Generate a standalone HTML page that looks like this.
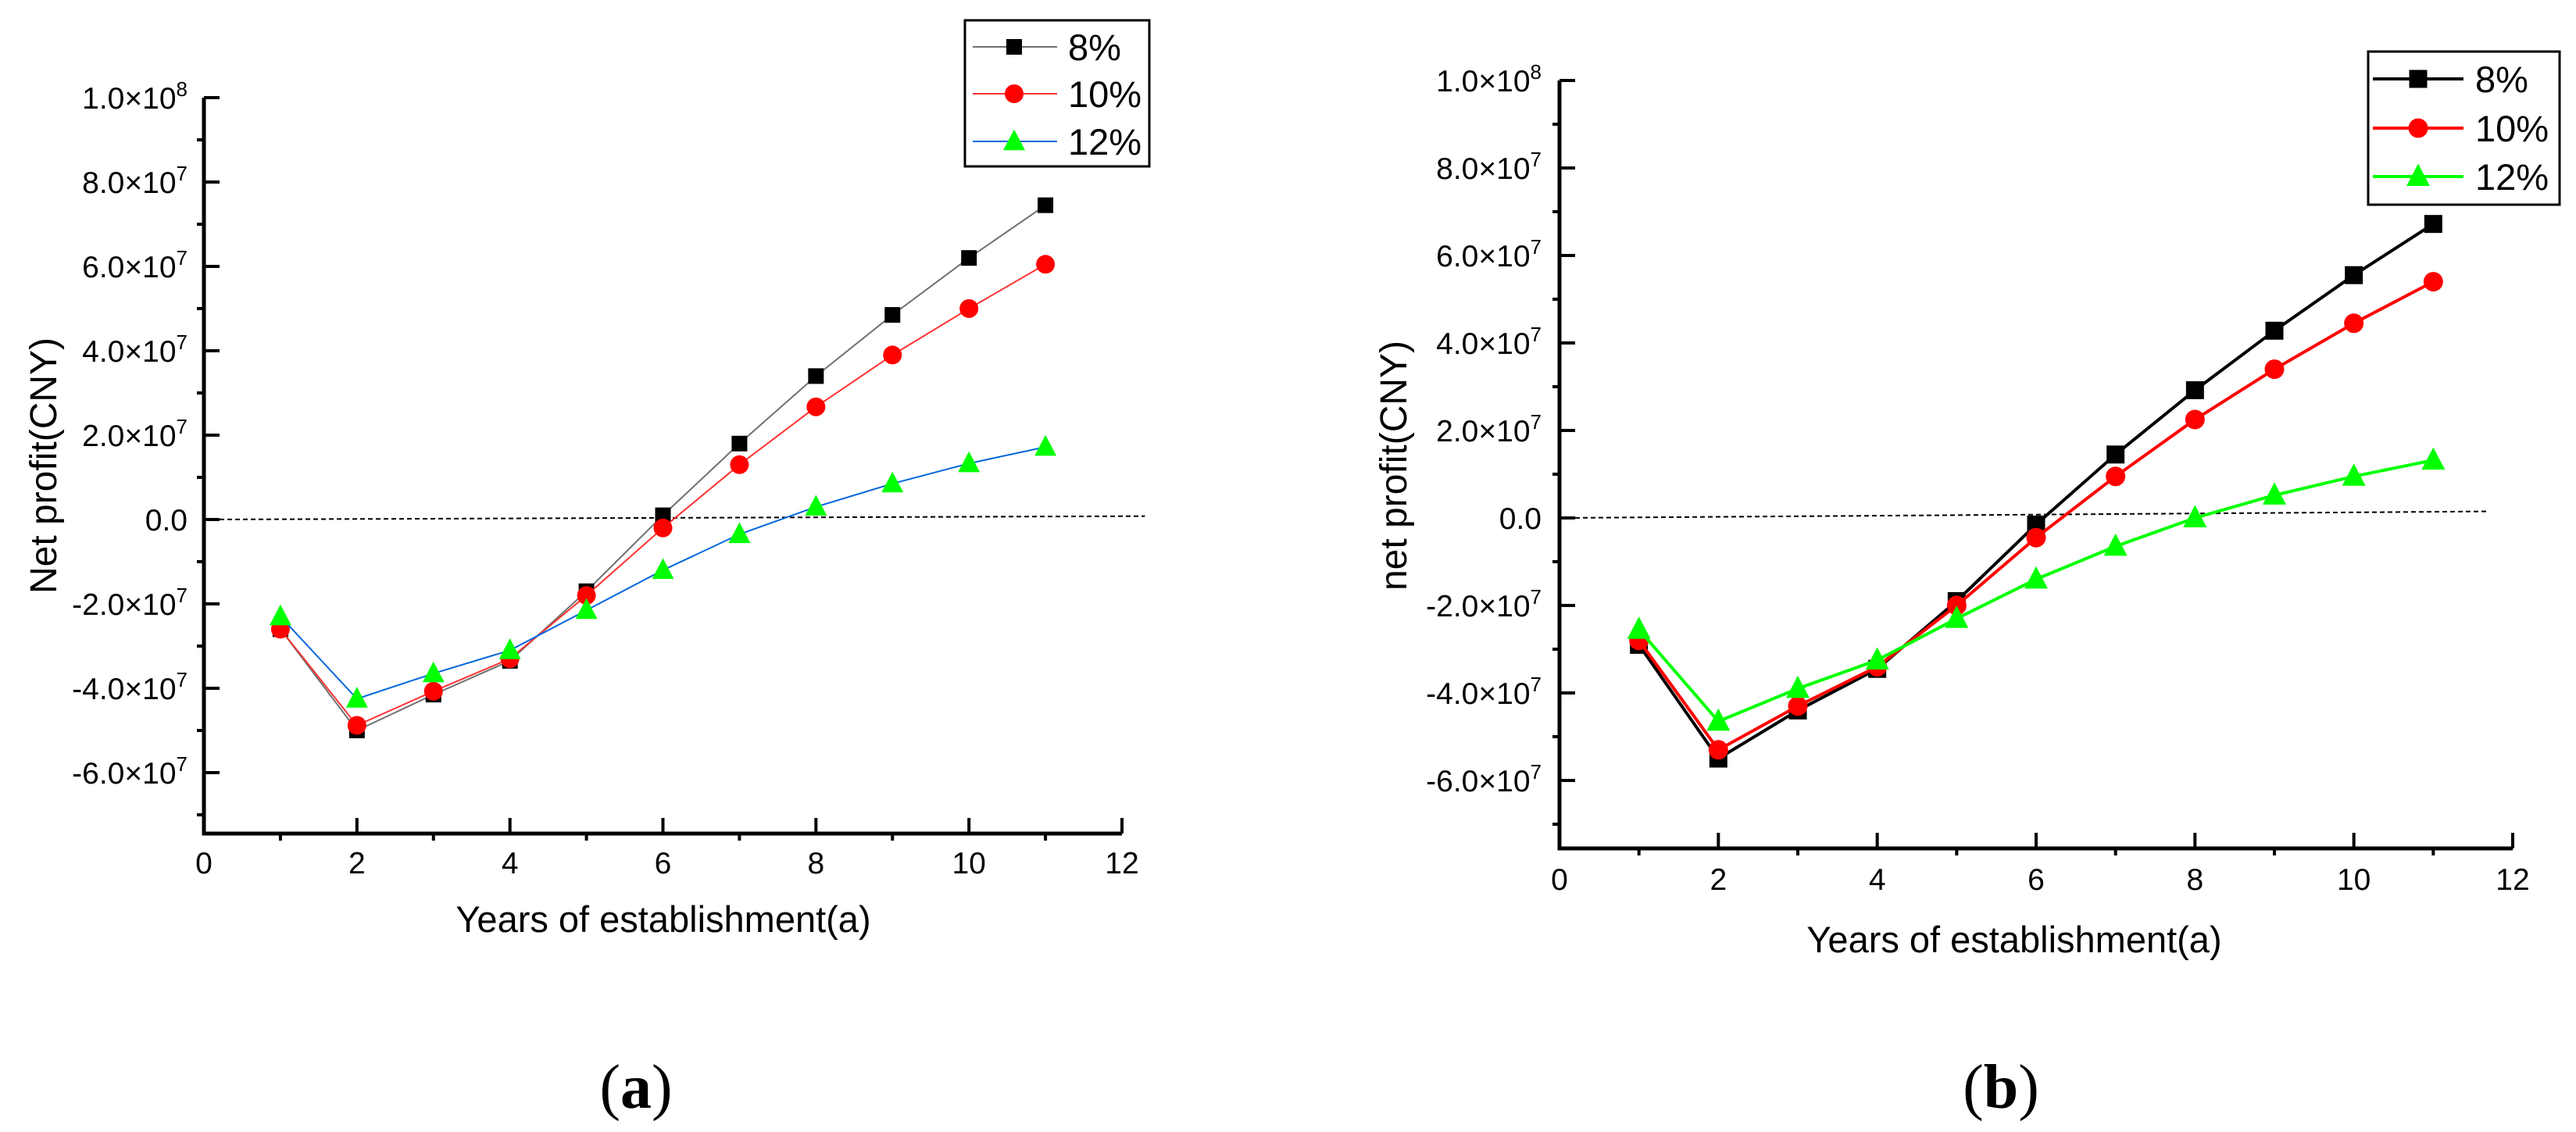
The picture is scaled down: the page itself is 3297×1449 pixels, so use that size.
<!DOCTYPE html>
<html><head><meta charset="utf-8"><style>
html,body{margin:0;padding:0;background:#fff;}
svg{display:block;font-family:"Liberation Sans",Arial,sans-serif;}
</style></head><body>
<svg id="fig" width="3297" height="1449" viewBox="0 0 3297 1449" xmlns="http://www.w3.org/2000/svg">
<rect x="0" y="0" width="3297" height="1449" fill="#fff"/>
</svg>
<script>
const years = [1,2,3,4,5,6,7,8,9,10,11];
const seriesNames = ["8%","10%","12%"];
const a8 = [-2.6,-5.0,-4.15,-3.35,-1.7,0.1,1.8,3.4,4.85,6.2,7.45];
const a10 = [-2.6,-4.88,-4.07,-3.3,-1.8,-0.2,1.3,2.67,3.9,5.0,6.05];
const a12 = [-2.3,-4.25,-3.65,-3.1,-2.15,-1.2,-0.35,0.3,0.85,1.33,1.72];
const b8 = [-2.9,-5.5,-4.4,-3.45,-1.9,-0.15,1.45,2.92,4.28,5.55,6.72];
const b10 = [-2.8,-5.3,-4.3,-3.4,-2.0,-0.45,0.95,2.25,3.4,4.45,5.4];
const b12 = [-2.55,-4.65,-3.9,-3.25,-2.3,-1.4,-0.65,0.0,0.52,0.95,1.32];
const xTicks = [0,2,4,6,8,10,12];
const yTickMant = ["-6.0","-4.0","-2.0","0.0","2.0","4.0","6.0","8.0","1.0"];
const yTickVals = [-6,-4,-2,0,2,4,6,8,10];
const yTickExp = ["7","7","7","","7","7","7","7","8"];
const zeroLineA = [0,0,12.3,0.08];
const zeroLineB = [0,0,11.7,0.15];

const NS="http://www.w3.org/2000/svg";
const svg=document.getElementById('fig');
function mk(tag,attrs,parent){const e=document.createElementNS(NS,tag);for(const k in attrs)e.setAttribute(k,attrs[k]);(parent||svg).appendChild(e);return e;}

function panel(P){
  const g=mk('g',{});
  
  
  const X=v=>P.x0+(v-0)*(P.x12-P.x0)/12;
  const Y=v=>P.y0-(v)*(P.y0-P.y10)/10;
  // zero reference line
  const z=P.zero;
  const zl=mk('line',{x1:X(z[0]),y1:Y(z[1]),x2:X(z[2]),y2:Y(z[3]),stroke:'#000','stroke-width':2,'stroke-dasharray':'6,4'},g);
  
  
  // axes
  const ax=mk('path',{d:`M${P.x0},${Y(10)} V${P.yb} H${X(12)}`,fill:'none',stroke:'#000','stroke-width':5},g);
  
  
  // y ticks
  for(let i=0;i<yTickVals.length;i++){
    const v=yTickVals[i];const y=Y(v);
    mk('line',{x1:P.x0,y1:y,x2:P.x0+20,y2:y,stroke:'#000','stroke-width':4},g);
    const t=mk('text',{x:P.lblR,y:y+14,'text-anchor':'end','font-size':39,fill:'#000'},g);
    
    
    if(yTickExp[i]){
      t.textContent=yTickMant[i]+'\u00d710';
      const s=mk('tspan',{'font-size':26,dy:-16},t);s.textContent=yTickExp[i];
    } else {t.textContent=yTickMant[i];}
  }
  for(let v=-7;v<10;v+=2){const y=Y(v);mk('line',{x1:P.x0-9,y1:y,x2:P.x0,y2:y,stroke:'#000','stroke-width':4},g);}
  // x ticks
  xTicks.forEach(v=>{
    const x=X(v);
    mk('line',{x1:x,y1:P.yb,x2:x,y2:P.yb-20,stroke:'#000','stroke-width':4},g);
    const t=mk('text',{x:x,y:P.xlblY,'text-anchor':'middle','font-size':39,fill:'#000'},g);
    
    
    t.textContent=v;
  });
  for(let v=1;v<12;v+=2){const x=X(v);mk('line',{x1:x,y1:P.yb,x2:x,y2:P.yb+9,stroke:'#000','stroke-width':4},g);}
  // titles
  const xt=mk('text',{x:P.xtX,y:P.xtY,'text-anchor':'middle','font-size':47,fill:'#000'},g);
  
  
  xt.textContent='Years of establishment(a)';
  const yt=mk('text',{x:0,y:0,'text-anchor':'middle','font-size':48,fill:'#000',transform:`translate(${P.ytX},${P.ytY}) rotate(-90)`},g);
  
  
  yt.textContent=P.ytitle;
  const cap=mk('text',{x:P.capX,y:1418,'text-anchor':'middle','font-size':80,fill:'#000','font-family':'"Liberation Serif",serif'},g);
  
  
  cap.textContent='(';
  const cb=mk('tspan',{'font-weight':'bold'},cap);cb.textContent=P.cap;
  const ce=mk('tspan',{},cap);ce.textContent=')';
  // series
  const marker=(k,x,y,col,gg,s)=>{
    let m;
    if(k===0)m=mk('rect',{x:x-s.sq/2,y:y-s.sq/2,width:s.sq,height:s.sq,fill:'#000'},gg);
    else if(k===1)m=mk('circle',{cx:x,cy:y,r:s.ci,fill:'#ff0000'},gg);
    else m=mk('polygon',{points:`${x},${y-s.tr*0.55} ${x-s.tr/2},${y+s.tr*0.4} ${x+s.tr/2},${y+s.tr*0.4}`,fill:'#00ff00'},gg);
    return m;
  };
  P.series.forEach((vals,k)=>{
    const sg=mk('g',{},g);
    
    
    const pts=years.map((yr,i)=>X(yr)+','+Y(vals[i])).join(' ');
    mk('polyline',{points:pts,fill:'none',stroke:P.lineCols[k],'stroke-width':P.lw},sg);
    years.forEach((yr,i)=>{
      const m=marker(k,X(yr),Y(vals[i]),null,sg,P.ms);
      
      
    });
  });
  // legend
  const L=P.leg;
  const lg=mk('g',{},g);
  
  
  mk('rect',{x:L.x,y:L.y,width:L.w,height:L.h,fill:'#fff',stroke:'#000','stroke-width':3},lg);
  seriesNames.forEach((n,k)=>{
    const ry=L.rows[k];
    const e=mk('g',{},lg);
    
    
    mk('line',{x1:L.l1,y1:ry,x2:L.l2,y2:ry,stroke:P.lineCols[k],'stroke-width':P.lw},e);
    marker(k,L.mx,ry,null,e,P.ms);
    const t=mk('text',{x:L.tx,y:ry+17,'font-size':47,fill:'#000'},e);
    t.textContent=n;
  });
}

panel({name:'panel-a',x0:261,x12:1436,y0:665,y10:125,yb:1067,lblR:240,xlblY:1118,
  xtX:849,xtY:1193,ytX:72,ytY:596,ytitle:'Net profit(CNY)',capX:814,cap:'a',
  zero:zeroLineA,series:[a8,a10,a12],lineCols:['#707070','#ff3333','#0066dd'],lw:2,
  ms:{sq:20,ci:12,tr:28},
  leg:{x:1235,y:26,w:236,h:187,rows:[60,120,181],l1:1245,l2:1353,mx:1298,tx:1367}});
panel({name:'panel-b',x0:1996,x12:3216,y0:663,y10:103,yb:1086,lblR:1973,xlblY:1139,
  xtX:2578,xtY:1219,ytX:1800,ytY:596,ytitle:'net profit(CNY)',capX:2561,cap:'b',
  zero:zeroLineB,series:[b8,b10,b12],lineCols:['#000000','#ff0000','#00ff00'],lw:4,
  ms:{sq:23,ci:12.5,tr:30},
  leg:{x:3031,y:66,w:245,h:196,rows:[101,164,226],l1:3037,l2:3153,mx:3095,tx:3168}});
</script>
</body></html>
